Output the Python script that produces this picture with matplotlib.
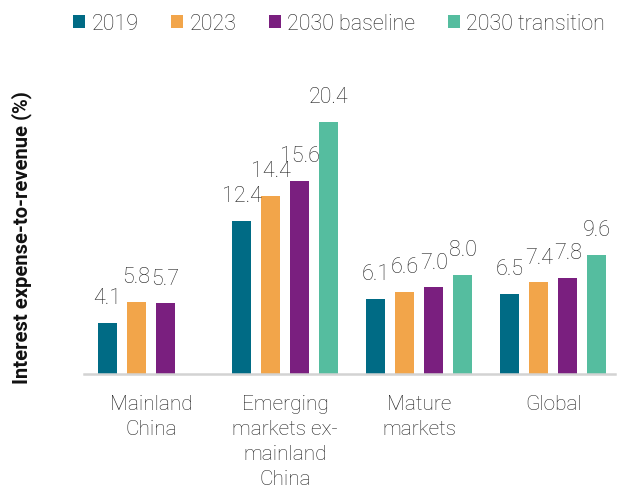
import numpy as np
import matplotlib
matplotlib.use("Agg")
import matplotlib.pyplot as plt

categories = ["Mainland\nChina", "Emerging\nmarkets ex-\nmainland\nChina", "Mature\nmarkets", "Global"]
series_names = ["2019", "2023", "2030 baseline", "2030 transition"]
values_2019 = [4.1, 12.4, 6.1, 6.5]
values_2023 = [5.8, 14.4, 6.6, 7.4]
values_2030_baseline = [5.7, 15.6, 7.0, 7.8]
values_2030_transition = [None, 20.4, 8.0, 9.6]
colors = ["#006b85", "#f2a54a", "#7a1f7f", "#55bd9f"]

plt.rcParams["font.family"] = ["Roboto", "DejaVu Sans"]
text_color = "#222222"

fig = plt.figure(figsize=6.21 * np.array([1, 485 / 621]), dpi=100)
ax = fig.add_axes([84 / 621, 111 / 485, (615 - 84) / 621, 334 / 485])

all_series = [values_2019, values_2023, values_2030_baseline, values_2030_transition]
step = 29 / 134
width = 19 / 134
x = np.arange(len(categories))
for i, (name, vals, col) in enumerate(zip(series_names, all_series, colors)):
    offset = (i - 1.5) * step
    xs = [xi + offset for xi, v in zip(x, vals) if v is not None]
    ys = [v for v in vals if v is not None]
    ax.bar(xs, ys, width=width, color=col, label=name)
    for bx, by in zip(xs, ys):
        ax.annotate(f"{by:.1f}", (bx, by), xytext=(0, 10), textcoords="offset points",
                    ha="center", va="bottom", fontsize=15.5, color=text_color,
                    fontweight="light")

ax.set_xlim(-0.5, 3.46)
ax.set_ylim(0, 27)
ax.set_xticks(x)
ax.set_xticklabels(categories, fontsize=15, color=text_color, fontweight="light",
                   linespacing=1.4)
ax.tick_params(axis="x", length=0, pad=15)
ax.set_yticks([])
for s in ["top", "right", "left"]:
    ax.spines[s].set_visible(False)
ax.spines["bottom"].set_color("#d3d3d3")
ax.spines["bottom"].set_linewidth(1.8)

fig.text(22 / 621, 1 - 238 / 485, "Interest expense-to-revenue (%)", rotation=90,
         ha="center", va="center", fontsize=14.5, fontweight="bold", color="#111111")

leg = fig.legend(loc="center", bbox_to_anchor=(339 / 621, 1 - 24 / 485), ncol=4,
                 frameon=False, fontsize=15.5, handlelength=0.56, handleheight=0.56,
                 handletextpad=0.3, columnspacing=1.5, borderaxespad=0)
for t in leg.get_texts():
    t.set_color(text_color)
    t.set_fontweight("light")

fig.savefig("out.png", dpi=100)
